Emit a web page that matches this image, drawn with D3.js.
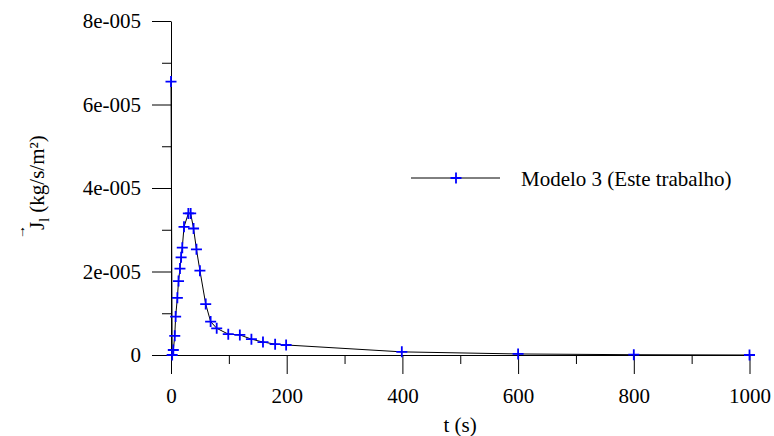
<!DOCTYPE html>
<html>
<head>
<meta charset="utf-8">
<script src="https://cdn.jsdelivr.net/npm/d3@7/dist/d3.min.js"></script>
<style>
  body { margin: 0; background: #fff; }
  svg { display: block; }
  svg text { font-family: "Liberation Serif", "Times New Roman", Times, "DejaVu Serif", serif; }
</style>
</head>
<body>
<div id="chart"></div>
<script>
// values
const times = [0, 2, 4, 6.5, 8, 11, 13, 15.5, 17.5, 19.5, 22.5, 30, 34, 39, 44, 50, 60, 68.5, 79, 99, 119, 139, 159, 180, 199, 399, 600, 800, 1000];
const fluxValues = [6.55e-5, 0, 1.2e-6, 4.6e-6, 9.2e-6, 1.37e-5, 1.77e-5, 2.07e-5, 2.34e-5, 2.57e-5, 3.07e-5, 3.39e-5, 3.39e-5, 3.03e-5, 2.53e-5, 2.02e-5, 1.22e-5, 8.0e-6, 6.4e-6, 5.0e-6, 4.8e-6, 3.8e-6, 3.1e-6, 2.6e-6, 2.4e-6, 7.5e-7, 2.5e-7, 7e-8, 0];

const xTickValues = [0, 200, 400, 600, 800, 1000];
const xMinorTicks = [100, 300, 500, 700, 900];
const yTickValues = [0, 2e-5, 4e-5, 6e-5, 8e-5];
const yTickLabels = ['0', '2e-005', '4e-005', '6e-005', '8e-005'];
const yMinorTicks = [1e-5, 3e-5, 5e-5, 7e-5];

const seriesName = 'Modelo 3 (Este trabalho)';
const xTitle = 't (s)';

const canvasWidth = 774;
const canvasHeight = 436;

const dataset = times.map((t, i) => ({ t: t, v: fluxValues[i] }));

const svgCanvas = d3.select('#chart')
                    .append('svg')
                    .attr('width', canvasWidth)
                    .attr('height', canvasHeight);

const xScale = d3.scaleLinear()
                 .domain([0, 1000])
                 .range([171, 749.5]);

const yScale = d3.scaleLinear()
                 .domain([0, 8e-5])
                 .range([355, 21]);

// minor ticks first, the main axes on top
svgCanvas.append('g')
         .attr('transform', 'translate(0,355)')
         .call(d3.axisBottom(xScale).tickValues(xMinorTicks).tickSize(9).tickFormat(''))
         .call(g => g.select('.domain').remove());

svgCanvas.append('g')
         .attr('transform', 'translate(171,0)')
         .call(d3.axisLeft(yScale).tickValues(yMinorTicks).tickSize(9).tickFormat(''))
         .call(g => g.select('.domain').remove());

const xAxis = d3.axisBottom(xScale)
                .tickValues(xTickValues)
                .tickSize(19)
                .tickSizeOuter(0)
                .tickPadding(14)
                .tickFormat(d => d);

const yAxis = d3.axisLeft(yScale)
                .tickValues(yTickValues)
                .tickSize(19)
                .tickSizeOuter(0)
                .tickPadding(11)
                .tickFormat((d, i) => yTickLabels[i]);

svgCanvas.append('g')
         .attr('id', 'x-axis')
         .attr('transform', 'translate(0,355)')
         .call(xAxis);

svgCanvas.append('g')
         .attr('id', 'y-axis')
         .attr('transform', 'translate(171,0)')
         .call(yAxis);

svgCanvas.selectAll('g.tick text')
         .attr('font-size', 21)
         .attr('fill', '#000');

svgCanvas.selectAll('.domain, g.tick line')
         .attr('stroke', '#000')
         .attr('stroke-width', 1);

// data line and markers
const line = d3.line()
               .x(d => xScale(d.t))
               .y(d => yScale(d.v));

svgCanvas.append('path')
         .datum(dataset)
         .attr('d', line)
         .attr('fill', 'none')
         .attr('stroke', '#000')
         .attr('stroke-width', 1);

const plusPath = 'M-5.5,0H5.5M0,-5.5V5.5';

svgCanvas.selectAll('.dot')
         .data(dataset)
         .enter()
            .append('path')
            .attr('class', 'dot')
            .attr('d', plusPath)
            .attr('transform', d => 'translate(' + xScale(d.t) + ',' + yScale(d.v) + ')')
            .attr('stroke', '#0000ff')
            .attr('stroke-width', 1.8)
            .attr('fill', 'none');

// legend
const legend = svgCanvas.append('g')
                        .attr('transform', 'translate(411,178)');

legend.append('line')
      .attr('x1', 0)
      .attr('x2', 89)
      .attr('stroke', '#000')
      .attr('stroke-width', 1);

legend.append('path')
      .attr('d', plusPath)
      .attr('transform', 'translate(45,0)')
      .attr('stroke', '#0000ff')
      .attr('stroke-width', 1.8);

legend.append('text')
      .attr('x', 110)
      .attr('y', 8)
      .attr('font-size', 21)
      .text(seriesName);

// axis titles
svgCanvas.append('text')
         .attr('x', 460)
         .attr('y', 432)
         .attr('text-anchor', 'middle')
         .attr('font-size', 21)
         .text(xTitle);

const yTitle = svgCanvas.append('text')
                        .attr('transform', 'translate(44,230) rotate(-90)')
                        .attr('font-size', 21);

yTitle.append('tspan').text('J');
yTitle.append('tspan').attr('font-size', 14).attr('dy', 5).text('l');
yTitle.append('tspan').attr('dy', -5).text(' (kg/s/m\u00b2)');

svgCanvas.append('text')
         .attr('transform', 'translate(25,232) rotate(-90)')
         .attr('text-anchor', 'middle')
         .attr('font-size', 14)
         .text('\u2192');
</script>
</body>
</html>
